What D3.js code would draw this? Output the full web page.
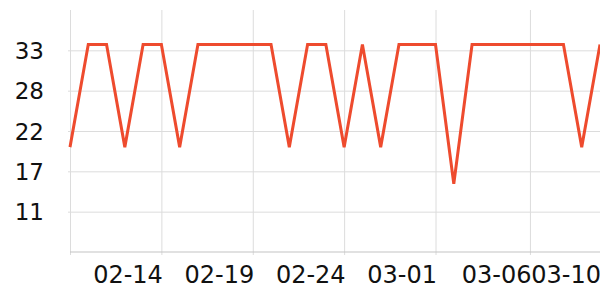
<!DOCTYPE html>
<html>
<head>
<meta charset="utf-8">
<script src="https://cdn.jsdelivr.net/npm/d3@7"></script>
<style>
  html, body { margin: 0; padding: 0; background: #fff; }
  svg text { font-family: "DejaVu Sans", sans-serif; fill: #111; }
</style>
</head>
<body>
<div id="chart"></div>
<script>
////////////////////////////////////////////////////////////////////////
//
// data
//
////////////////////////////////////////////////////////////////////////
var dayLabels = ["02-09", "02-10", "02-11", "02-12", "02-13", "02-14", "02-15", "02-16",
                 "02-17", "02-18", "02-19", "02-20", "02-21", "02-22", "02-23", "02-24",
                 "02-25", "02-26", "02-27", "02-28", "03-01", "03-02", "03-03", "03-04",
                 "03-05", "03-06", "03-07", "03-08", "03-09", "03-10"];
var dayValues = [20, 34, 34, 20, 34, 34, 20, 34,
                 34, 34, 34, 34, 20, 34, 34, 20,
                 34, 20, 34, 34, 34, 15, 34, 34,
                 34, 34, 34, 34, 20, 34];

// the last grid tick in the picture sits a few hours past 03-06 midnight
var xTickTimes  = ["02-09 00", "02-14 00", "02-19 00", "02-24 00", "03-01 00", "03-06 04"];
var xTickLabels = ["", "02-14", "02-19", "02-24", "03-01", "03-06"];
var xEndLabel   = "03-10";

var yTickValues = [11.2, 16.7, 22.2, 27.7, 33.2];
var yTickLabels = ["11", "17", "22", "28", "33"];
var yDomain     = [5.7, 38.7];


////////////////////////////////////////////////////////////////////////
//
// build the line chart
//
////////////////////////////////////////////////////////////////////////
function drawChart()
  {
  var width = 600;
  var height = 300;
  var left = 70, right = 600, top = 10, bottom = 252;

  var parseDay = d3.timeParse("%Y-%m-%d");
  var parseTick = d3.timeParse("%Y-%m-%d %H");
  var toDate = function(s) { return parseDay("2023-" + s); };

  var points = dayLabels.map(function(d, i) { return {date: toDate(d), value: dayValues[i]}; });

  var svg = d3.select("#chart")
    .append("svg")
    .attr("width", width)
    .attr("height", height);

  var x = d3.scaleTime()
    .domain(d3.extent(points, function(d) { return d.date; }))
    .range([left, right]);

  var y = d3.scaleLinear()
    .domain(yDomain)
    .range([bottom, top]);

  // horizontal grid + y labels
  var yAxis = d3.axisLeft(y)
    .tickValues(yTickValues)
    .tickSize(-(right - left) - 2)
    .tickFormat(function(d, i) { return yTickLabels[i]; });

  var gy = svg.append("g")
    .attr("transform", "translate(" + (left - 2) + ",0)")
    .call(yAxis);
  gy.select(".domain").remove();
  gy.selectAll(".tick line").attr("stroke", "#dcdcdc").attr("stroke-width", 1);
  gy.selectAll(".tick text")
    .attr("x", -24)
    .attr("dy", "0.35em")
    .style("font-size", "23px");

  // vertical grid + x labels
  var xTickDates = xTickTimes.map(function(s) { return parseTick("2023-" + s); });
  var xAxis = d3.axisBottom(x)
    .tickValues(xTickDates)
    .tickSize(-(bottom - top))
    .tickFormat(function(d, i) { return xTickLabels[i]; });

  var gx = svg.append("g")
    .attr("transform", "translate(0," + bottom + ")")
    .call(xAxis);
  gx.select(".domain").remove();
  gx.selectAll(".tick line").attr("stroke", "#dcdcdc").attr("stroke-width", 1).attr("y2", -(bottom - top)).attr("y1", 3);
  gx.selectAll(".tick text")
    .attr("text-anchor", "end")
    .attr("x", 1)
    .attr("y", 31)
    .attr("dy", 0)
    .style("font-size", "24px");

  // last date label sits at the right edge
  svg.append("text")
    .attr("x", x(toDate(dayLabels[dayLabels.length - 1])) + 1)
    .attr("y", bottom + 31)
    .attr("text-anchor", "end")
    .style("font-size", "24px")
    .text(xEndLabel);

  // bottom axis line
  svg.append("line")
    .attr("x1", left).attr("x2", right)
    .attr("y1", bottom).attr("y2", bottom)
    .attr("stroke", "#c4c4c4")
    .attr("stroke-width", 1.2);

  // the series
  var line = d3.line()
    .x(function(d) { return x(d.date); })
    .y(function(d) { return y(d.value); });

  svg.append("path")
    .datum(points)
    .attr("d", line)
    .attr("fill", "none")
    .attr("stroke", "#ee4b2e")
    .attr("stroke-width", 3);

  return;
  }

drawChart();
</script>
</body>
</html>
